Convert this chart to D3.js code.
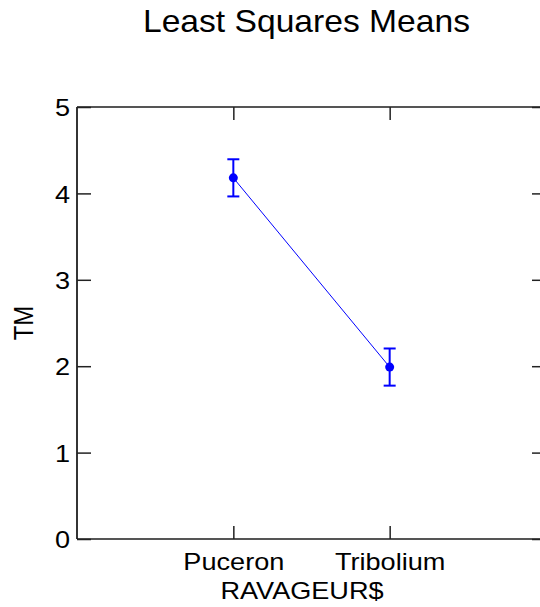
<!DOCTYPE html>
<html>
<head>
  <script src="https://d3js.org/d3.v7.min.js"></script>
  <style>
    body { margin: 0; background: #fff; overflow: hidden; }
    text { font-family: "Liberation Sans", Arial, sans-serif; fill: #000; }
  </style>
</head>
<body>
  <script>
    // values
    const categories = ["Puceron", "Tribolium"];
    const means = [4.18, 1.99];
    const stdErr = [0.215, 0.215];
    const yTicks = [0, 1, 2, 3, 4, 5];

    const width = 540, height = 607;
    const plotLeft = 77, plotRight = 546, plotTop = 107, plotBottom = 539;
    const sx = 1.13; // text in the reference is stretched horizontally

    const svg = d3.select("body").append("svg")
      .attr("width", width)
      .attr("height", height);

    const x = d3.scalePoint().domain(categories).range([plotLeft, plotRight]).padding(1);
    const y = d3.scaleLinear().domain([0, 5]).range([plotBottom, plotTop]);

    // frame
    const frame = svg.append("g");
    frame.append("line").attr("x1", plotLeft).attr("x2", plotRight).attr("y1", plotTop).attr("y2", plotTop)
      .attr("stroke", "#555").attr("stroke-width", 2);
    frame.append("line").attr("x1", plotLeft).attr("x2", plotRight).attr("y1", plotBottom).attr("y2", plotBottom)
      .attr("stroke", "#555").attr("stroke-width", 2);
    frame.append("line").attr("x1", plotLeft).attr("x2", plotLeft).attr("y1", plotTop).attr("y2", plotBottom)
      .attr("stroke", "#111").attr("stroke-width", 1.7);
    frame.append("line").attr("x1", plotRight).attr("x2", plotRight).attr("y1", plotTop).attr("y2", plotBottom)
      .attr("stroke", "#111").attr("stroke-width", 1.7);

    // y axis, ticks inside
    const yAxis = svg.append("g")
      .attr("transform", `translate(${plotLeft},0)`)
      .call(d3.axisLeft(y).tickValues(yTicks).tickFormat(d3.format("d")).tickSize(-14).tickPadding(6));
    yAxis.select(".domain").remove();
    yAxis.selectAll(".tick line").attr("stroke", "#222").attr("stroke-width", 1.5);
    yAxis.selectAll(".tick text")
      .attr("font-size", 24)
      .attr("dy", "0.36em")
      .attr("transform", `scale(${sx},1)`)
      .attr("x", -7 / sx);

    const yAxisR = svg.append("g")
      .attr("transform", `translate(${plotRight},0)`)
      .call(d3.axisRight(y).tickValues(yTicks).tickSize(-14).tickFormat(""));
    yAxisR.select(".domain").remove();
    yAxisR.selectAll(".tick line").attr("stroke", "#222").attr("stroke-width", 1.5);

    // x axis, ticks inside
    const xAxis = svg.append("g")
      .attr("transform", `translate(0,${plotBottom})`)
      .call(d3.axisBottom(x).tickSize(-13).tickPadding(0));
    xAxis.select(".domain").remove();
    xAxis.selectAll(".tick line").attr("stroke", "#222").attr("stroke-width", 1.5);
    xAxis.selectAll(".tick text")
      .attr("font-size", 24)
      .attr("y", 31.5)
      .attr("dy", 0)
      .attr("transform", `scale(${sx},1)`);

    const xAxisT = svg.append("g")
      .attr("transform", `translate(0,${plotTop})`)
      .call(d3.axisTop(x).tickSize(-13).tickFormat(""));
    xAxisT.select(".domain").remove();
    xAxisT.selectAll(".tick line").attr("stroke", "#222").attr("stroke-width", 1.5);

    // means line, error bars, points
    const pts = categories.map((c, i) => ({ cat: c, mean: means[i], se: stdErr[i] }));

    svg.append("path")
      .datum(pts)
      .attr("fill", "none")
      .attr("stroke", "#0000ff")
      .attr("stroke-width", 1)
      .attr("d", d3.line().x(d => x(d.cat)).y(d => y(d.mean)));

    const bars = svg.append("g").selectAll("g")
      .data(pts)
      .enter().append("g")
      .attr("stroke", "#0000ff")
      .attr("stroke-width", 2);
    bars.append("line")
      .attr("x1", d => x(d.cat)).attr("x2", d => x(d.cat))
      .attr("y1", d => y(d.mean - d.se)).attr("y2", d => y(d.mean + d.se));
    bars.append("line")
      .attr("x1", d => x(d.cat) - 6).attr("x2", d => x(d.cat) + 6)
      .attr("y1", d => y(d.mean + d.se)).attr("y2", d => y(d.mean + d.se));
    bars.append("line")
      .attr("x1", d => x(d.cat) - 6).attr("x2", d => x(d.cat) + 6)
      .attr("y1", d => y(d.mean - d.se)).attr("y2", d => y(d.mean - d.se));

    svg.append("g").selectAll("circle")
      .data(pts)
      .enter().append("circle")
      .attr("cx", d => x(d.cat))
      .attr("cy", d => y(d.mean))
      .attr("r", 4.5)
      .attr("fill", "#0000ff");

    // titles
    svg.append("text")
      .attr("transform", `translate(306.5,32) scale(1.085,1)`)
      .attr("text-anchor", "middle")
      .attr("font-size", 31)
      .text("Least Squares Means");

    svg.append("text")
      .attr("transform", `translate(302,599) scale(${sx},1)`)
      .attr("text-anchor", "middle")
      .attr("font-size", 24)
      .text("RAVAGEUR$");

    svg.append("text")
      .attr("transform", `translate(33,323) scale(${sx},1) rotate(-90)`)
      .attr("text-anchor", "middle")
      .attr("font-size", 24)
      .text("TM");
  </script>
</body>
</html>
